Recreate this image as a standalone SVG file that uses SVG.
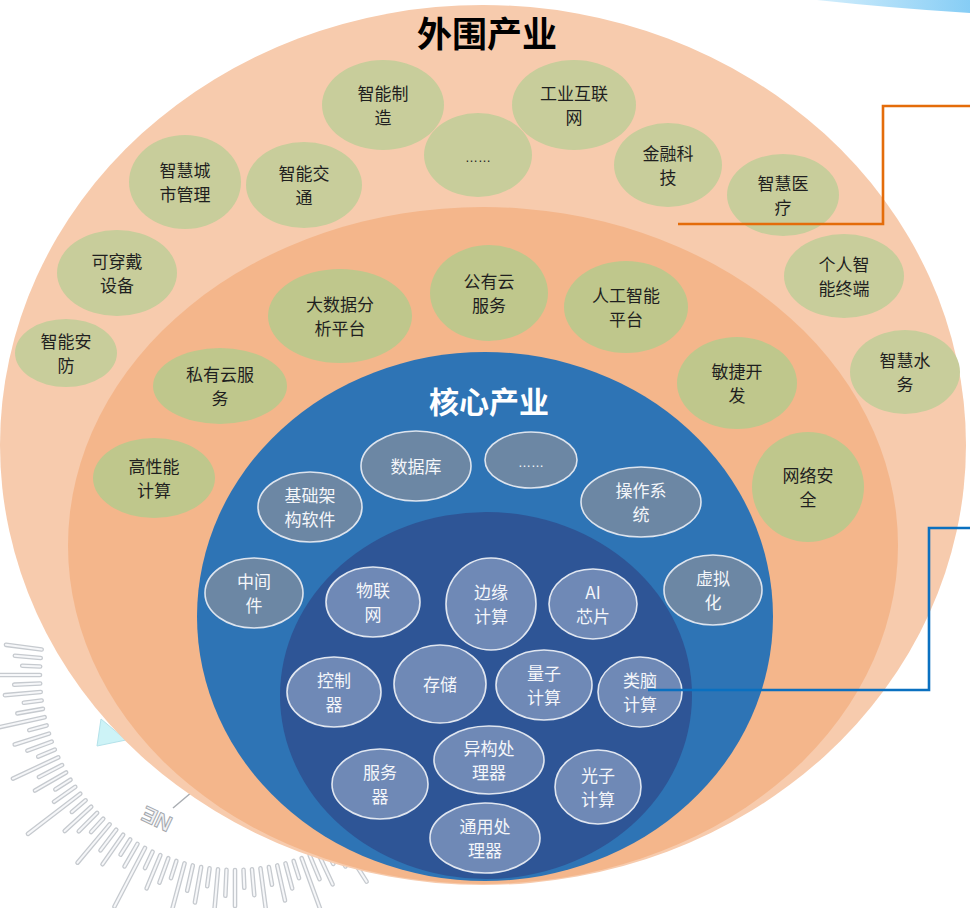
<svg xmlns="http://www.w3.org/2000/svg" xmlns:xlink="http://www.w3.org/1999/xlink" width="970" height="908" viewBox="0 0 970 908">
  <style>
    .og { fill: #c8cd9b; }
    .mg { fill: #bfc78c; }
    .bn { fill: #6c87a4; stroke: #dde4ee; stroke-width: 1.6; }
    .in { fill: #6f89b6; stroke: #e0e6f0; stroke-width: 1.6; }
    .dt { font-family: "Noto Sans CJK SC", "Noto Sans", sans-serif; font-size: 17px; fill: #1f1f1f; text-anchor: middle; }
    .wt { font-family: "Noto Sans CJK SC", "Noto Sans", sans-serif; font-size: 17px; fill: #f4f6fa; text-anchor: middle; }
    .dots { font-family: "Liberation Sans", sans-serif; font-size: 13px; text-anchor: middle; }
    .title { font-family: "Noto Sans CJK SC", sans-serif; font-weight: 700; text-anchor: middle; }
    .link { fill: none; stroke-width: 2.6; }
  </style>
  <defs>
    <linearGradient id="sky" x1="0" y1="0" x2="1" y2="0">
      <stop offset="0" stop-color="#d3eefc"/>
      <stop offset="1" stop-color="#86cdf5"/>
    </linearGradient>
    <!-- compass ticks, radial bars around (235,675) -->
    <path id="t1" d="M430 675h18"/>
    <path id="t2" d="M430 675h26"/>
    <path id="t3" d="M430 675h36"/>
    <path id="t4" d="M430 675h50"/>
    <path id="t5" d="M430 675h66"/>
    <g id="ticks" fill="none" stroke-linecap="round">
      <use href="#t4" transform="rotate(57.5 235 675)"/>
      <use href="#t2" transform="rotate(60 235 675)"/>
      <use href="#t1" transform="rotate(62.5 235 675)"/>
      <use href="#t3" transform="rotate(65 235 675)"/>
      <use href="#t2" transform="rotate(67.5 235 675)"/>
      <use href="#t5" transform="rotate(70 235 675)"/>
      <use href="#t1" transform="rotate(72.5 235 675)"/>
      <use href="#t2" transform="rotate(75 235 675)"/>
      <use href="#t3" transform="rotate(77.5 235 675)"/>
      <use href="#t1" transform="rotate(80 235 675)"/>
      <use href="#t4" transform="rotate(82.5 235 675)"/>
      <use href="#t2" transform="rotate(85 235 675)"/>
      <use href="#t1" transform="rotate(87.5 235 675)"/>
      <use href="#t3" transform="rotate(90 235 675)"/>
      <use href="#t2" transform="rotate(92.5 235 675)"/>
      <use href="#t5" transform="rotate(95 235 675)"/>
      <use href="#t1" transform="rotate(97.5 235 675)"/>
      <use href="#t3" transform="rotate(100 235 675)"/>
      <use href="#t2" transform="rotate(102.5 235 675)"/>
      <use href="#t4" transform="rotate(105 235 675)"/>
      <use href="#t1" transform="rotate(107.5 235 675)"/>
      <use href="#t2" transform="rotate(110 235 675)"/>
      <use href="#t3" transform="rotate(112.5 235 675)"/>
      <use href="#t1" transform="rotate(115 235 675)"/>
      <use href="#t5" transform="rotate(117.5 235 675)"/>
      <use href="#t2" transform="rotate(120 235 675)"/>
      <use href="#t1" transform="rotate(122.5 235 675)"/>
      <use href="#t3" transform="rotate(125 235 675)"/>
      <use href="#t2" transform="rotate(127.5 235 675)"/>
      <use href="#t4" transform="rotate(130 235 675)"/>
      <use href="#t1" transform="rotate(132.5 235 675)"/>
      <use href="#t2" transform="rotate(135 235 675)"/>
      <use href="#t3" transform="rotate(137.5 235 675)"/>
      <use href="#t1" transform="rotate(140 235 675)"/>
      <use href="#t5" transform="rotate(142.5 235 675)"/>
      <use href="#t2" transform="rotate(145 235 675)"/>
      <use href="#t1" transform="rotate(147.5 235 675)"/>
      <use href="#t3" transform="rotate(150 235 675)"/>
      <use href="#t2" transform="rotate(152.5 235 675)"/>
      <use href="#t4" transform="rotate(155 235 675)"/>
      <use href="#t1" transform="rotate(157.5 235 675)"/>
      <use href="#t2" transform="rotate(160 235 675)"/>
      <use href="#t3" transform="rotate(162.5 235 675)"/>
      <use href="#t1" transform="rotate(165 235 675)"/>
      <use href="#t5" transform="rotate(167.5 235 675)"/>
      <use href="#t2" transform="rotate(170 235 675)"/>
      <use href="#t1" transform="rotate(172.5 235 675)"/>
      <use href="#t3" transform="rotate(175 235 675)"/>
      <use href="#t2" transform="rotate(177.5 235 675)"/>
      <use href="#t4" transform="rotate(180 235 675)"/>
      <use href="#t1" transform="rotate(182.5 235 675)"/>
      <use href="#t2" transform="rotate(185 235 675)"/>
      <use href="#t3" transform="rotate(187.5 235 675)"/>
    </g>
  </defs>

  <rect width="970" height="908" fill="#ffffff"/>

  <!-- background decoration -->
  <g id="decor">
    <path d="M817 0 H970 V13 Q890 8 817 0 Z" fill="url(#sky)"/>
    <use href="#ticks" stroke="#c6cacf" stroke-width="4.6"/>
    <use href="#ticks" stroke="#f6f7f9" stroke-width="2"/>
    <polygon points="97,746 101,719 126,740" fill="#cdf3f7" stroke="#b4e2ea" stroke-width="1"/>
    <line x1="173" y1="808" x2="192" y2="792" stroke="#a9adb2" stroke-width="1.5"/>
    <text x="160" y="812" transform="rotate(205 160 812)" font-family="Liberation Sans, sans-serif" font-size="22" font-weight="700" fill="#f2f3f5" stroke="#a3a7ad" stroke-width="1" text-anchor="middle">NE</text>
  </g>

  <!-- industry layers -->
  <g id="layers">
    <ellipse cx="483" cy="445" rx="483" ry="440" fill="#f7cbad"/>
    <ellipse cx="483" cy="545.5" rx="415" ry="338.5" fill="#f4b68b"/>
    <ellipse cx="485" cy="616.5" rx="288" ry="264.5" fill="#2e74b5"/>
    <ellipse cx="486" cy="695.5" rx="206" ry="183.5" fill="#2e5596"/>
  </g>

  <text class="title" x="487" y="47" font-size="35" fill="#000000">外围产业</text>
  <text class="title" x="489" y="413" font-size="30" fill="#ffffff">核心产业</text>

  <!-- peripheral industries -->
  <g id="n-zhizao"><ellipse class="og" cx="383" cy="105" rx="61" ry="45"/><text class="dt" x="383" y="100">智能制</text><text class="dt" x="383" y="124">造</text></g>
  <g id="n-more-outer"><ellipse class="og" cx="478" cy="155" rx="54" ry="42"/><text class="dt dots" x="478" y="162">……</text></g>
  <g id="n-gongye"><ellipse class="og" cx="574" cy="105" rx="62" ry="45"/><text class="dt" x="574" y="100">工业互联</text><text class="dt" x="574" y="124">网</text></g>
  <g id="n-jinrong"><ellipse class="og" cx="668" cy="165" rx="54" ry="42"/><text class="dt" x="668" y="160">金融科</text><text class="dt" x="668" y="184">技</text></g>
  <g id="n-yiliao"><ellipse class="og" cx="783" cy="195" rx="56" ry="41"/><text class="dt" x="783" y="190">智慧医</text><text class="dt" x="783" y="214">疗</text></g>
  <g id="n-chengshi"><ellipse class="og" cx="185" cy="182" rx="56" ry="47"/><text class="dt" x="185" y="177">智慧城</text><text class="dt" x="185" y="201">市管理</text></g>
  <g id="n-jiaotong"><ellipse class="og" cx="304" cy="185" rx="58" ry="43"/><text class="dt" x="304" y="180">智能交</text><text class="dt" x="304" y="204">通</text></g>
  <g id="n-chuandai"><ellipse class="og" cx="117" cy="273" rx="60" ry="43"/><text class="dt" x="117" y="268">可穿戴</text><text class="dt" x="117" y="292">设备</text></g>
  <g id="n-anfang"><ellipse class="og" cx="66" cy="353" rx="51" ry="34"/><text class="dt" x="66" y="348">智能安</text><text class="dt" x="66" y="372">防</text></g>
  <g id="n-zhongduan"><ellipse class="og" cx="844" cy="276" rx="60" ry="42"/><text class="dt" x="844" y="271">个人智</text><text class="dt" x="844" y="295">能终端</text></g>
  <g id="n-shuiwu"><ellipse class="og" cx="905" cy="372" rx="55" ry="42"/><text class="dt" x="905" y="367">智慧水</text><text class="dt" x="905" y="391">务</text></g>

  <!-- platform services ring -->
  <g id="n-dashuju"><ellipse class="mg" cx="340" cy="316" rx="72" ry="47"/><text class="dt" x="340" y="311">大数据分</text><text class="dt" x="340" y="335">析平台</text></g>
  <g id="n-gongyouyun"><ellipse class="mg" cx="489" cy="293" rx="59" ry="48"/><text class="dt" x="489" y="288">公有云</text><text class="dt" x="489" y="312">服务</text></g>
  <g id="n-rengong"><ellipse class="mg" cx="626" cy="307" rx="62" ry="46"/><text class="dt" x="626" y="302">人工智能</text><text class="dt" x="626" y="326">平台</text></g>
  <g id="n-siyouyun"><ellipse class="mg" cx="220" cy="386" rx="67" ry="38"/><text class="dt" x="220" y="381">私有云服</text><text class="dt" x="220" y="405">务</text></g>
  <g id="n-gaoxingneng"><ellipse class="mg" cx="154" cy="478" rx="61" ry="40"/><text class="dt" x="154" y="473">高性能</text><text class="dt" x="154" y="497">计算</text></g>
  <g id="n-minjie"><ellipse class="mg" cx="737" cy="383" rx="60" ry="46"/><text class="dt" x="737" y="378">敏捷开</text><text class="dt" x="737" y="402">发</text></g>
  <g id="n-anquan"><ellipse class="mg" cx="808" cy="487" rx="56" ry="55"/><text class="dt" x="808" y="482">网络安</text><text class="dt" x="808" y="506">全</text></g>

  <!-- core software ring -->
  <g id="n-shujuku"><ellipse class="bn" cx="416" cy="466" rx="55" ry="35"/><text class="wt" x="416" y="473">数据库</text></g>
  <g id="n-more-core"><ellipse class="bn" cx="531" cy="460" rx="46" ry="28"/><text class="wt dots" x="531" y="467">……</text></g>
  <g id="n-jichu"><ellipse class="bn" cx="310" cy="507" rx="52" ry="35"/><text class="wt" x="310" y="502">基础架</text><text class="wt" x="310" y="526">构软件</text></g>
  <g id="n-zhongjian"><ellipse class="bn" cx="254" cy="593" rx="49" ry="35"/><text class="wt" x="254" y="588">中间</text><text class="wt" x="254" y="612">件</text></g>
  <g id="n-caozuo"><ellipse class="bn" cx="641" cy="502" rx="60" ry="35"/><text class="wt" x="641" y="497">操作系</text><text class="wt" x="641" y="521">统</text></g>
  <g id="n-xuni"><ellipse class="bn" cx="713" cy="590" rx="49" ry="35"/><text class="wt" x="713" y="585">虚拟</text><text class="wt" x="713" y="609">化</text></g>

  <!-- core hardware -->
  <g id="n-wulian"><ellipse class="in" cx="373" cy="602" rx="47" ry="35"/><text class="wt" x="373" y="597">物联</text><text class="wt" x="373" y="621">网</text></g>
  <g id="n-bianyuan"><ellipse class="in" cx="491" cy="604" rx="45" ry="46"/><text class="wt" x="491" y="599">边缘</text><text class="wt" x="491" y="623">计算</text></g>
  <g id="n-ai"><ellipse class="in" cx="593" cy="604" rx="44" ry="35"/><text class="wt" x="593" y="599">AI</text><text class="wt" x="593" y="623">芯片</text></g>
  <g id="n-kongzhi"><ellipse class="in" cx="334" cy="692" rx="47" ry="35"/><text class="wt" x="334" y="687">控制</text><text class="wt" x="334" y="711">器</text></g>
  <g id="n-cunchu"><ellipse class="in" cx="440" cy="684" rx="46" ry="39"/><text class="wt" x="440" y="691">存储</text></g>
  <g id="n-liangzi"><ellipse class="in" cx="544" cy="685" rx="48" ry="35"/><text class="wt" x="544" y="680">量子</text><text class="wt" x="544" y="704">计算</text></g>
  <g id="n-leinao"><ellipse class="in" cx="640" cy="692" rx="42" ry="35"/><text class="wt" x="640" y="687">类脑</text><text class="wt" x="640" y="711">计算</text></g>
  <g id="n-fuwuqi"><ellipse class="in" cx="380" cy="784" rx="48" ry="35"/><text class="wt" x="380" y="779">服务</text><text class="wt" x="380" y="803">器</text></g>
  <g id="n-yigou"><ellipse class="in" cx="489" cy="760" rx="55" ry="34"/><text class="wt" x="489" y="755">异构处</text><text class="wt" x="489" y="779">理器</text></g>
  <g id="n-tongyong"><ellipse class="in" cx="485" cy="838" rx="55" ry="35"/><text class="wt" x="485" y="833">通用处</text><text class="wt" x="485" y="857">理器</text></g>
  <g id="n-guangzi"><ellipse class="in" cx="598" cy="787" rx="43" ry="37"/><text class="wt" x="598" y="782">光子</text><text class="wt" x="598" y="806">计算</text></g>

  <!-- callout connectors -->
  <g id="connectors">
    <polyline class="link" points="678,224 883,224 883,106 970,106" stroke="#e46c0a"/>
    <polyline class="link" points="648,690 929,690 929,528 970,528" stroke="#0a70c0"/>
  </g>
</svg>
